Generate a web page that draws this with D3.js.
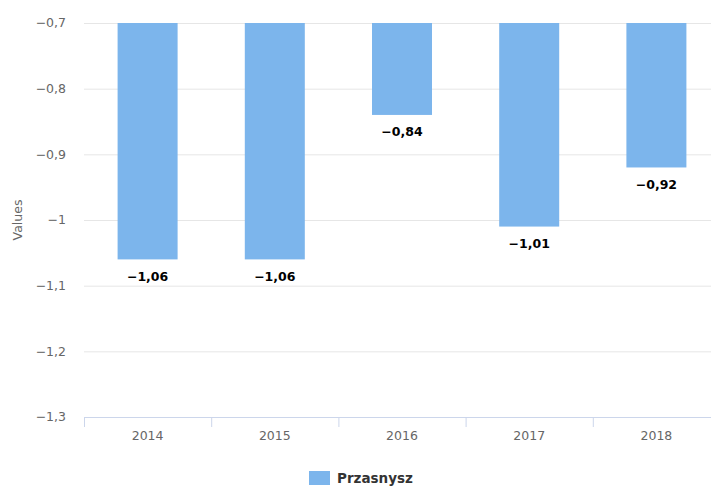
<!DOCTYPE html>
<html><head><meta charset="utf-8">
<script src="https://cdn.jsdelivr.net/npm/d3@7"></script>
<style>body{margin:0;background:#fff}svg{display:block;font-family:"DejaVu Sans",Verdana,sans-serif}</style>
</head><body>
<svg id="c" width="711" height="488"></svg>
<script>
const categories = ["2014","2015","2016","2017","2018"];
const values = [-1.06,-1.06,-0.84,-1.01,-0.92];
const yTicks = [-0.7,-0.8,-0.9,-1.0,-1.1,-1.2,-1.3];
const seriesName = "Przasnysz";

(function(){
const svg = d3.select("#c");
const mLeft = 84, mRight = 720, mTop = 23, mBottom = 417;
const fmt = v => d3.format(".2~f")(v).replace("-", "\u2212").replace(".", ",");
const fmtTick = v => d3.format(".1~f")(v).replace("-", "\u2212").replace(".", ",");

const x = d3.scaleBand().domain(categories).range([mLeft, mRight]).paddingInner(0).paddingOuter(0);
const y = d3.scaleLinear().domain([-0.7, -1.3]).range([mTop, mBottom]);

// grid
svg.append("g").selectAll("line").data(yTicks.slice(0, -1)).join("line")
  .attr("x1", mLeft).attr("x2", mRight)
  .attr("y1", d => y(d) + 0.5).attr("y2", d => y(d) + 0.5)
  .attr("stroke", "#e6e6e6").attr("stroke-width", 1);

// y labels
svg.append("g").selectAll("text").data(yTicks).join("text")
  .attr("x", 66).attr("y", d => y(d)).attr("dy", "0.35em")
  .attr("text-anchor", "end").attr("fill", "#666").attr("font-size", 12.5)
  .text(fmtTick);

svg.append("text").attr("transform", `translate(22,${(mTop + mBottom) / 2}) rotate(-90)`)
  .attr("text-anchor", "middle").attr("fill", "#666").attr("font-size", 12.5).text("Values");

// x axis
const xa = svg.append("g").attr("transform", `translate(0,${mBottom})`)
  .call(d3.axisBottom(x).tickSize(0).tickPadding(14));
xa.select(".domain").attr("stroke", "#ccd6eb").attr("d", `M${mLeft},0.5H${mRight}`);
xa.selectAll("text").attr("fill", "#666").attr("font-size", 12.5).attr("font-family", "DejaVu Sans, Verdana, sans-serif");
const bounds = categories.map(c => x(c)).concat([mRight]);
xa.selectAll(".sep").data(bounds).join("line").attr("class", "sep")
  .attr("x1", d => d + 0.5).attr("x2", d => d + 0.5).attr("y1", 0).attr("y2", 10)
  .attr("stroke", "#ccd6eb");

// bars
const bw = 60;
svg.append("g").selectAll("rect").data(values).join("rect")
  .attr("x", (d, i) => x(categories[i]) + x.bandwidth() / 2 - bw / 2)
  .attr("y", y(-0.7)).attr("width", bw)
  .attr("height", d => y(d) - y(-0.7))
  .attr("fill", "#7cb5ec");

// data labels
svg.append("g").selectAll("text").data(values).join("text")
  .attr("x", (d, i) => x(categories[i]) + x.bandwidth() / 2)
  .attr("y", d => y(d) + 17).attr("dy", "0.35em")
  .attr("text-anchor", "middle").attr("font-weight", "bold").attr("font-size", 12.5)
  .attr("fill", "#000").attr("stroke", "#fff").attr("stroke-width", 2).attr("paint-order", "stroke")
  .text(fmt);

// legend
const lg = svg.append("g");
lg.append("rect").attr("x", 309).attr("y", 471).attr("width", 21).attr("height", 14).attr("fill", "#7cb5ec");
lg.append("text").attr("x", 337).attr("y", 478).attr("dy", "0.35em")
  .attr("font-weight", "bold").attr("font-size", 13.5).attr("fill", "#333").text(seriesName);
})();
</script>
</body></html>
